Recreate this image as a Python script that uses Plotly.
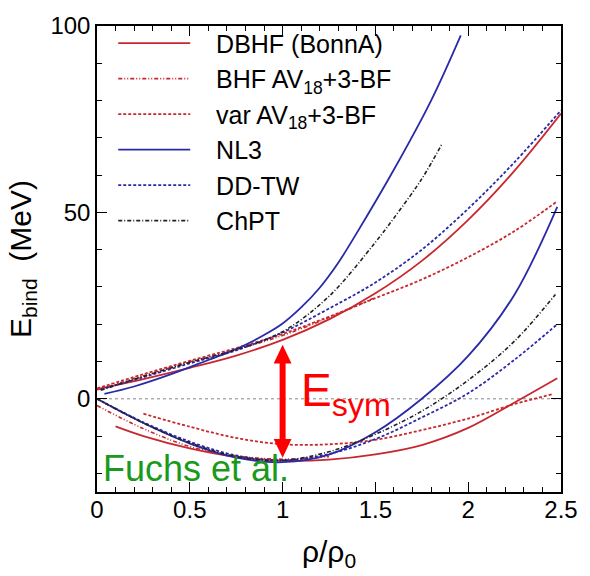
import plotly.graph_objects as go

# ---------------- data ----------------
# neutron matter (upper branch)
dbhf_n_x = [0.0, 0.25, 0.5, 0.75, 1.0, 1.25, 1.5, 1.75, 2.0, 2.25, 2.5]
dbhf_n_y = [2.6, 5.3, 8.3, 11.6, 15.8, 21.3, 28.3, 37.0, 48.0, 61.2, 76.5]
bhf_n_x = [0.0, 0.25, 0.5, 0.75, 1.0, 1.25, 1.5]
bhf_n_y = [2.4, 6.2, 9.9, 13.2, 17.0, 21.8, 27.2]
var_n_x = [0.0, 0.25, 0.5, 0.75, 1.0, 1.25, 1.5, 1.75, 2.0, 2.25, 2.48]
var_n_y = [2.8, 6.6, 10.2, 13.6, 17.4, 22.0, 27.0, 32.0, 38.0, 45.0, 53.0]
nl3_n_x = [0.04, 0.2, 0.4, 0.6, 0.7, 0.8, 0.9, 1.0, 1.1, 1.2, 1.3, 1.4, 1.6, 1.8, 1.96]
nl3_n_y = [1.3, 3.3, 6.6, 10.4, 12.3, 14.5, 17.1, 20.2, 24.5, 29.8, 36.5, 44.5, 61.5, 80.0, 97.5]
ddtw_n_x = [0.02, 0.25, 0.5, 0.75, 1.0, 1.25, 1.5, 1.75, 2.0, 2.25, 2.5]
ddtw_n_y = [2.5, 5.8, 9.5, 13.0, 17.8, 24.2, 31.2, 40.0, 51.0, 63.5, 77.4]
chpt_n_x = [0.02, 0.25, 0.5, 0.75, 1.0, 1.25, 1.5, 1.6, 1.75, 1.86]
chpt_n_y = [2.3, 6.0, 9.8, 13.2, 18.0, 27.5, 42.0, 48.5, 59.0, 68.5]

# symmetric nuclear matter (lower branch)
dbhf_s_x = [0.1, 0.25, 0.5, 0.75, 1.0, 1.25, 1.5, 1.75, 2.0, 2.25, 2.48]
dbhf_s_y = [-7.4, -10.0, -13.3, -15.6, -16.6, -16.3, -14.9, -12.4, -7.8, -1.0, 5.5]
bhf_s_x = [0.0, 0.25, 0.5, 0.75, 1.0, 1.25]
bhf_s_y = [-1.8, -8.0, -12.8, -15.3, -16.2, -15.5]
var_s_x = [0.25, 0.5, 0.75, 1.0, 1.25, 1.5, 1.75, 2.0, 2.25, 2.45]
var_s_y = [-4.0, -7.5, -10.5, -12.2, -12.2, -11.0, -8.4, -5.3, -1.4, 1.2]
nl3_s_x = [0.0, 0.25, 0.5, 0.75, 1.0, 1.25, 1.5, 1.75, 2.0, 2.25, 2.48]
nl3_s_y = [0.0, -6.5, -12.0, -15.8, -17.0, -15.0, -9.0, 0.0, 11.5, 28.0, 51.5]
ddtw_s_x = [0.0, 0.25, 0.5, 0.75, 1.0, 1.25, 1.5, 1.75, 2.0, 2.25, 2.48]
ddtw_s_y = [0.0, -6.3, -11.5, -15.2, -16.5, -14.8, -10.8, -5.0, 1.5, 10.5, 20.0]
chpt_s_x = [0.0, 0.25, 0.5, 0.75, 1.0, 1.25, 1.5, 1.75, 2.0, 2.25, 2.47]
chpt_s_y = [0.0, -6.5, -11.8, -15.5, -16.5, -14.2, -9.5, -3.3, 5.0, 15.5, 28.0]

names = ["DBHF (BonnA)", "BHF AV<sub>18</sub>+3-BF", "var AV<sub>18</sub>+3-BF",
         "NL3", "DD-TW", "ChPT"]
x_ticks = [0, 0.5, 1, 1.5, 2, 2.5]
x_tick_labels = ["0", "0.5", "1", "1.5", "2", "2.5"]
y_ticks = [0, 50, 100]
y_tick_labels = ["0", "50", "100"]

# symmetry-energy arrow (at saturation density)
arrow_x = 1.0
arrow_top = 14.5
arrow_bottom = -15.8

# ---------------- styles ----------------
RED = "#c8282d"
BLUE = "#2a2aa8"
BLACK = "#222222"
styles = [
    dict(color=RED, width=1.8, dash="solid"),
    dict(color=RED, width=1.6, dash="4px,2px,1px,2px,1px,2px"),
    dict(color=RED, width=1.8, dash="3px,2px"),
    dict(color=BLUE, width=1.8, dash="solid"),
    dict(color=BLUE, width=1.8, dash="3px,2px"),
    dict(color=BLACK, width=1.6, dash="4px,2px,1px,2px"),
]

upper = [(dbhf_n_x, dbhf_n_y), (bhf_n_x, bhf_n_y), (var_n_x, var_n_y),
         (nl3_n_x, nl3_n_y), (ddtw_n_x, ddtw_n_y), (chpt_n_x, chpt_n_y)]
lower = [(dbhf_s_x, dbhf_s_y), (bhf_s_x, bhf_s_y), (var_s_x, var_s_y),
         (nl3_s_x, nl3_s_y), (ddtw_s_x, ddtw_s_y), (chpt_s_x, chpt_s_y)]

FONT = "Liberation Sans, Arial, Helvetica, sans-serif"
PAD = "\u00a0\u00a0\u00a0"

fig = go.Figure()
for i, name in enumerate(names):
    ux, uy = upper[i]
    fig.add_trace(go.Scatter(x=ux, y=uy, mode="lines", name=PAD + name,
                             legendgroup=str(i), line=dict(shape="spline", **styles[i])))
for i, name in enumerate(names):
    lx, ly = lower[i]
    fig.add_trace(go.Scatter(x=lx, y=ly, mode="lines", name=name, showlegend=False,
                             legendgroup=str(i), line=dict(shape="spline", **styles[i])))

# zero line (dotted)
fig.add_shape(type="line", xref="paper", x0=0, x1=1, yref="y", y0=0, y1=0,
              line=dict(color="#888888", width=1, dash="dot"), layer="below")

# double arrow
head_h = 5.0
head_w = 0.048
fig.add_shape(type="line", x0=arrow_x, x1=arrow_x, y0=arrow_bottom + head_h * 0.8,
              y1=arrow_top - head_h * 0.8, line=dict(color="#ff0000", width=6))
fig.add_shape(type="path", fillcolor="#ff0000", line=dict(width=0),
              path=f"M {arrow_x} {arrow_top} L {arrow_x - head_w} {arrow_top - head_h} "
                   f"L {arrow_x + head_w} {arrow_top - head_h} Z")
fig.add_shape(type="path", fillcolor="#ff0000", line=dict(width=0),
              path=f"M {arrow_x} {arrow_bottom} L {arrow_x - head_w} {arrow_bottom + head_h} "
                   f"L {arrow_x + head_w} {arrow_bottom + head_h} Z")

fig.add_annotation(x=1.09, y=1.5, xref="x", yref="y", text="E<sub>sym</sub>",
                   showarrow=False, xanchor="left", yanchor="middle",
                   font=dict(family=FONT, size=46, color="#ff0000"))
fig.add_annotation(x=0.02, y=-18.8, xref="x", yref="y", text="Fuchs et al.",
                   showarrow=False, xanchor="left", yanchor="middle",
                   font=dict(family=FONT, size=36, color="#1a9a1a"))

axis_common = dict(showline=True, linecolor="black", linewidth=1.5, mirror="ticks",
                   ticks="inside", tickcolor="black", ticklen=10, tickwidth=1.3,
                   showgrid=False, zeroline=False,
                   tickfont=dict(family=FONT, size=24, color="black"))

fig.update_xaxes(range=[0, 2.5], tickvals=x_ticks, ticktext=x_tick_labels,
                 ticklabelstandoff=-5,
                 minor=dict(dtick=0.1, tick0=0, ticks="inside", ticklen=5, tickcolor="black",
                            tickwidth=1.2),
                 title=dict(text="ρ/ρ<sub>0</sub>", font=dict(family=FONT, size=30, color="black"),
                            standoff=19),
                 **axis_common)
fig.update_yaxes(range=[-25, 100], tickvals=y_ticks, ticktext=y_tick_labels,
                 minor=dict(dtick=10, tick0=0, ticks="inside", ticklen=5, tickcolor="black",
                            tickwidth=1.2),
                 title=dict(text="E<sub>bind</sub>  (MeV)",
                            font=dict(family=FONT, size=30, color="black"), standoff=10),
                 **axis_common)

fig.update_layout(
    width=590, height=576,
    margin=dict(l=97, r=19, t=17, b=84),
    paper_bgcolor="white", plot_bgcolor="white",
    showlegend=True,
    legend=dict(x=0.035, y=1.012, xanchor="left", yanchor="top", bgcolor="rgba(0,0,0,0)",
                font=dict(family=FONT, size=25, color="black"), itemwidth=72,
                tracegroupgap=0),
)

fig.write_html("out.html")
